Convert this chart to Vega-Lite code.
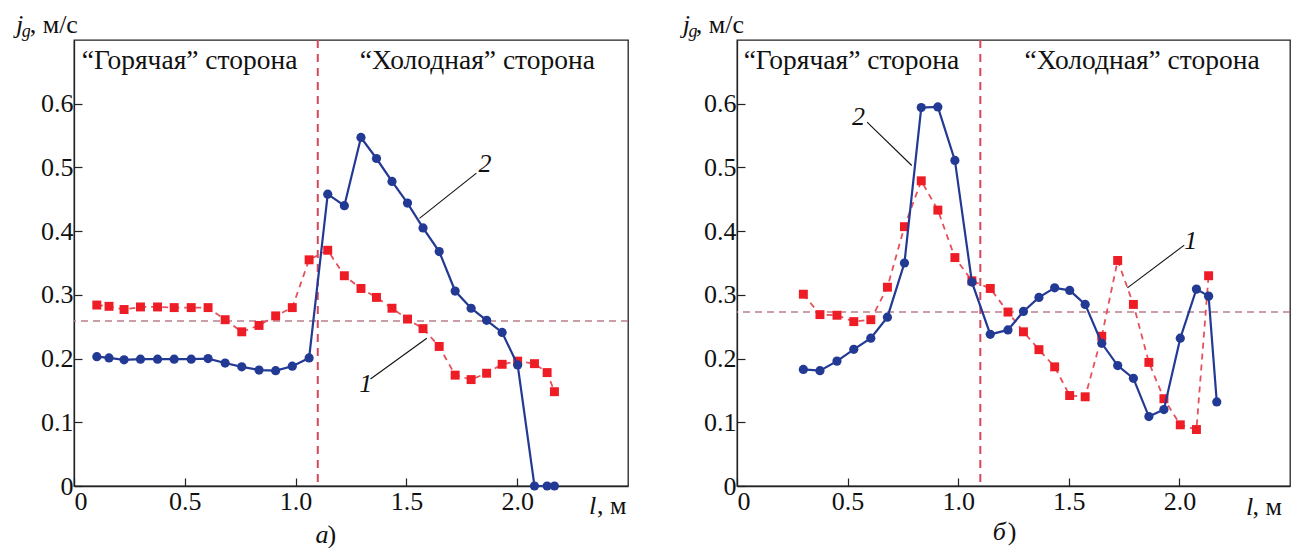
{
  "$schema": "https://vega.github.io/schema/vega-lite/v6.json",
  "padding": {"left": 15, "top": 10, "right": 0, "bottom": 0},
  "background": "white",
  "bounds": "flush",
  "spacing": 109,
  "config": {
    "view": {"stroke": "#222", "strokeWidth": 1.3},
    "axis": {"domainColor": "#222", "domainWidth": 1.3, "tickColor": "#222", "tickWidth": 1.2, "tickSize": -8, "labelFont": "'Liberation Serif', 'DejaVu Serif', serif", "labelFontSize": 26, "labelColor": "#111", "grid": false, "title": null},
    "text": {"font": "'Liberation Serif', 'DejaVu Serif', serif", "fontSize": 26, "color": "#111", "align": "left", "baseline": "alphabetic"}
  },
  "datasets": {
    "a_curves": [
      {"l": 0.103, "jg": 0.284, "curve": "1"}, {"l": 0.158, "jg": 0.282, "curve": "1"}, {"l": 0.226, "jg": 0.277, "curve": "1"}, {"l": 0.300, "jg": 0.281, "curve": "1"}, {"l": 0.377, "jg": 0.281, "curve": "1"}, {"l": 0.452, "jg": 0.280, "curve": "1"}, {"l": 0.529, "jg": 0.280, "curve": "1"}, {"l": 0.605, "jg": 0.280, "curve": "1"}, {"l": 0.682, "jg": 0.261, "curve": "1"}, {"l": 0.757, "jg": 0.242, "curve": "1"}, {"l": 0.835, "jg": 0.252, "curve": "1"}, {"l": 0.910, "jg": 0.267, "curve": "1"}, {"l": 0.985, "jg": 0.280, "curve": "1"}, {"l": 1.061, "jg": 0.355, "curve": "1"}, {"l": 1.145, "jg": 0.370, "curve": "1"}, {"l": 1.220, "jg": 0.330, "curve": "1"}, {"l": 1.295, "jg": 0.310, "curve": "1"}, {"l": 1.365, "jg": 0.296, "curve": "1"}, {"l": 1.435, "jg": 0.279, "curve": "1"}, {"l": 1.505, "jg": 0.262, "curve": "1"}, {"l": 1.575, "jg": 0.247, "curve": "1"}, {"l": 1.648, "jg": 0.219, "curve": "1"}, {"l": 1.720, "jg": 0.174, "curve": "1"}, {"l": 1.792, "jg": 0.167, "curve": "1"}, {"l": 1.862, "jg": 0.177, "curve": "1"}, {"l": 1.932, "jg": 0.191, "curve": "1"}, {"l": 2.002, "jg": 0.196, "curve": "1"}, {"l": 2.078, "jg": 0.192, "curve": "1"}, {"l": 2.135, "jg": 0.178, "curve": "1"}, {"l": 2.168, "jg": 0.148, "curve": "1"},
      {"l": 0.103, "jg": 0.203, "curve": "2"}, {"l": 0.158, "jg": 0.201, "curve": "2"}, {"l": 0.226, "jg": 0.198, "curve": "2"}, {"l": 0.300, "jg": 0.199, "curve": "2"}, {"l": 0.377, "jg": 0.199, "curve": "2"}, {"l": 0.452, "jg": 0.199, "curve": "2"}, {"l": 0.529, "jg": 0.199, "curve": "2"}, {"l": 0.605, "jg": 0.200, "curve": "2"}, {"l": 0.682, "jg": 0.193, "curve": "2"}, {"l": 0.757, "jg": 0.187, "curve": "2"}, {"l": 0.835, "jg": 0.182, "curve": "2"}, {"l": 0.910, "jg": 0.181, "curve": "2"}, {"l": 0.985, "jg": 0.188, "curve": "2"}, {"l": 1.061, "jg": 0.201, "curve": "2"}, {"l": 1.145, "jg": 0.458, "curve": "2"}, {"l": 1.220, "jg": 0.440, "curve": "2"}, {"l": 1.295, "jg": 0.547, "curve": "2"}, {"l": 1.365, "jg": 0.514, "curve": "2"}, {"l": 1.435, "jg": 0.478, "curve": "2"}, {"l": 1.505, "jg": 0.444, "curve": "2"}, {"l": 1.575, "jg": 0.405, "curve": "2"}, {"l": 1.648, "jg": 0.368, "curve": "2"}, {"l": 1.720, "jg": 0.306, "curve": "2"}, {"l": 1.792, "jg": 0.279, "curve": "2"}, {"l": 1.862, "jg": 0.260, "curve": "2"}, {"l": 1.932, "jg": 0.241, "curve": "2"}, {"l": 2.002, "jg": 0.190, "curve": "2"}, {"l": 2.078, "jg": 0.0, "curve": "2"}, {"l": 2.135, "jg": 0.0, "curve": "2"}, {"l": 2.168, "jg": 0.0, "curve": "2"}
    ],
    "b_curves": [
      {"l": 0.300, "jg": 0.301, "curve": "1"}, {"l": 0.375, "jg": 0.269, "curve": "1"}, {"l": 0.452, "jg": 0.268, "curve": "1"}, {"l": 0.528, "jg": 0.258, "curve": "1"}, {"l": 0.605, "jg": 0.261, "curve": "1"}, {"l": 0.680, "jg": 0.312, "curve": "1"}, {"l": 0.757, "jg": 0.407, "curve": "1"}, {"l": 0.833, "jg": 0.479, "curve": "1"}, {"l": 0.908, "jg": 0.433, "curve": "1"}, {"l": 0.985, "jg": 0.3585, "curve": "1"}, {"l": 1.062, "jg": 0.322, "curve": "1"}, {"l": 1.145, "jg": 0.310, "curve": "1"}, {"l": 1.225, "jg": 0.273, "curve": "1"}, {"l": 1.295, "jg": 0.242, "curve": "1"}, {"l": 1.365, "jg": 0.214, "curve": "1"}, {"l": 1.436, "jg": 0.187, "curve": "1"}, {"l": 1.504, "jg": 0.142, "curve": "1"}, {"l": 1.574, "jg": 0.140, "curve": "1"}, {"l": 1.649, "jg": 0.235, "curve": "1"}, {"l": 1.721, "jg": 0.354, "curve": "1"}, {"l": 1.792, "jg": 0.285, "curve": "1"}, {"l": 1.862, "jg": 0.194, "curve": "1"}, {"l": 1.930, "jg": 0.137, "curve": "1"}, {"l": 2.004, "jg": 0.096, "curve": "1"}, {"l": 2.077, "jg": 0.0886, "curve": "1"}, {"l": 2.132, "jg": 0.330, "curve": "1"},
      {"l": 0.300, "jg": 0.183, "curve": "2"}, {"l": 0.375, "jg": 0.181, "curve": "2"}, {"l": 0.452, "jg": 0.196, "curve": "2"}, {"l": 0.528, "jg": 0.2145, "curve": "2"}, {"l": 0.605, "jg": 0.232, "curve": "2"}, {"l": 0.680, "jg": 0.265, "curve": "2"}, {"l": 0.757, "jg": 0.350, "curve": "2"}, {"l": 0.833, "jg": 0.594, "curve": "2"}, {"l": 0.908, "jg": 0.595, "curve": "2"}, {"l": 0.985, "jg": 0.511, "curve": "2"}, {"l": 1.062, "jg": 0.320, "curve": "2"}, {"l": 1.145, "jg": 0.238, "curve": "2"}, {"l": 1.225, "jg": 0.245, "curve": "2"}, {"l": 1.295, "jg": 0.274, "curve": "2"}, {"l": 1.365, "jg": 0.296, "curve": "2"}, {"l": 1.436, "jg": 0.311, "curve": "2"}, {"l": 1.504, "jg": 0.307, "curve": "2"}, {"l": 1.574, "jg": 0.285, "curve": "2"}, {"l": 1.649, "jg": 0.224, "curve": "2"}, {"l": 1.721, "jg": 0.189, "curve": "2"}, {"l": 1.792, "jg": 0.169, "curve": "2"}, {"l": 1.862, "jg": 0.109, "curve": "2"}, {"l": 1.930, "jg": 0.120, "curve": "2"}, {"l": 2.004, "jg": 0.232, "curve": "2"}, {"l": 2.077, "jg": 0.309, "curve": "2"}, {"l": 2.132, "jg": 0.298, "curve": "2"}, {"l": 2.169, "jg": 0.132, "curve": "2"}
    ],
    "a_ref": [{"l": 1.1, "jg": 0.259}],
    "b_ref": [{"l": 1.1, "jg": 0.273}],
    "a_leaders": [
      {"l": 1.816, "jg": 0.491, "l2": 1.559, "jg2": 0.42},
      {"l": 1.338, "jg": 0.168, "l2": 1.592, "jg2": 0.232}
    ],
    "b_leaders": [
      {"l": 0.588, "jg": 0.571, "l2": 0.79, "jg2": 0.503},
      {"l": 2.022, "jg": 0.378, "l2": 1.765, "jg2": 0.311}
    ],
    "a_head": [
      {"l": 0.035, "jg": 0.655, "text": "“Горячая” сторона"},
      {"l": 1.29, "jg": 0.655, "text": "“Холодная” сторона"}
    ],
    "a_text": [
      {"l": -0.2, "jg": 0.7116, "text": ", м/с"},
      {"l": 2.36, "jg": -0.044, "text": ", м"},
      {"l": 1.144, "jg": -0.0893, "text": ")"}
    ],
    "a_italic": [
      {"l": -0.262, "jg": 0.7116, "text": "j"},
      {"l": 2.324, "jg": -0.044, "text": "l"},
      {"l": 1.09, "jg": -0.0893, "text": "а"},
      {"l": 1.825, "jg": 0.4924, "text": "2"},
      {"l": 1.287, "jg": 0.147, "text": "1"}
    ],
    "a_sub": [{"l": -0.236, "jg": 0.704, "text": "g"}],
    "b_head": [
      {"l": 0.03, "jg": 0.654, "text": "“Горячая” сторона"},
      {"l": 1.3, "jg": 0.654, "text": "“Холодная” сторона"}
    ],
    "b_text": [
      {"l": -0.186, "jg": 0.7116, "text": ", м/с"},
      {"l": 2.33, "jg": -0.045, "text": ", м"},
      {"l": 1.2235, "jg": -0.084, "text": ")"}
    ],
    "b_italic": [
      {"l": -0.245, "jg": 0.7116, "text": "j"},
      {"l": 2.301, "jg": -0.045, "text": "l"},
      {"l": 1.156, "jg": -0.084, "text": "б"},
      {"l": 0.52, "jg": 0.567, "text": "2"},
      {"l": 2.022, "jg": 0.372, "text": "1"}
    ],
    "b_sub": [{"l": -0.219, "jg": 0.704, "text": "g"}]
  },
  "hconcat": [
    {
      "width": 554,
      "height": 446,
      "encoding": {
        "x": {"field": "l", "type": "quantitative", "scale": {"domain": [0, 2.5], "nice": false, "zero": false}, "axis": {"values": [0, 0.5, 1, 1.5, 2], "labelExpr": "datum.value == 0 ? '0' : format(datum.value, '.1f')", "labelPadding": 10}},
        "y": {"field": "jg", "type": "quantitative", "scale": {"domain": [0, 0.7], "nice": false, "zero": false}, "axis": {"values": [0, 0.1, 0.2, 0.3, 0.4, 0.5, 0.6], "labelExpr": "datum.value == 0 ? '0' : format(datum.value, '.1f')", "labelPadding": 9}}
      },
      "layer": [
        {"data": {"name": "a_ref"}, "mark": {"type": "rule", "color": "#d8465c", "strokeWidth": 2, "strokeDash": [8, 6]}, "encoding": {"y": null}},
        {"data": {"name": "a_ref"}, "mark": {"type": "rule", "color": "#b97f8b", "strokeWidth": 1.5, "strokeDash": [7, 5]}, "encoding": {"x": null}},
        {"data": {"name": "a_curves"}, "transform": [{"filter": "datum.curve == '1'"}], "mark": {"type": "line", "color": "#e5505c", "strokeWidth": 1.8, "strokeDash": [6, 5]}},
        {"data": {"name": "a_curves"}, "transform": [{"filter": "datum.curve == '1'"}], "mark": {"type": "point", "shape": "square", "filled": true, "opacity": 1, "color": "#ee1c25", "size": 80}},
        {"data": {"name": "a_curves"}, "transform": [{"filter": "datum.curve == '2'"}], "mark": {"type": "line", "color": "#233a94", "strokeWidth": 2.2}},
        {"data": {"name": "a_curves"}, "transform": [{"filter": "datum.curve == '2'"}], "mark": {"type": "circle", "opacity": 1, "color": "#233a94", "size": 85}},
        {"data": {"name": "a_leaders"}, "mark": {"type": "rule", "color": "#111", "strokeWidth": 1.1}, "encoding": {"x2": {"field": "l2"}, "y2": {"field": "jg2"}}},
        {"data": {"name": "a_head"}, "mark": {"type": "text", "fontSize": 27.5}, "encoding": {"text": {"field": "text"}}},
        {"data": {"name": "a_text"}, "mark": {"type": "text"}, "encoding": {"text": {"field": "text"}}},
        {"data": {"name": "a_italic"}, "mark": {"type": "text", "fontStyle": "italic"}, "encoding": {"text": {"field": "text"}}},
        {"data": {"name": "a_sub"}, "mark": {"type": "text", "fontStyle": "italic", "fontSize": 18}, "encoding": {"text": {"field": "text"}}}
      ]
    },
    {
      "width": 553,
      "height": 446,
      "encoding": {
        "x": {"field": "l", "type": "quantitative", "scale": {"domain": [0, 2.5], "nice": false, "zero": false}, "axis": {"values": [0, 0.5, 1, 1.5, 2], "labelExpr": "datum.value == 0 ? '0' : format(datum.value, '.1f')", "labelPadding": 10}},
        "y": {"field": "jg", "type": "quantitative", "scale": {"domain": [0, 0.7], "nice": false, "zero": false}, "axis": {"values": [0, 0.1, 0.2, 0.3, 0.4, 0.5, 0.6], "labelExpr": "datum.value == 0 ? '0' : format(datum.value, '.1f')", "labelPadding": 9}}
      },
      "layer": [
        {"data": {"name": "b_ref"}, "mark": {"type": "rule", "color": "#d8465c", "strokeWidth": 2, "strokeDash": [8, 6]}, "encoding": {"y": null}},
        {"data": {"name": "b_ref"}, "mark": {"type": "rule", "color": "#b97f8b", "strokeWidth": 1.5, "strokeDash": [7, 5]}, "encoding": {"x": null}},
        {"data": {"name": "b_curves"}, "transform": [{"filter": "datum.curve == '1'"}], "mark": {"type": "line", "color": "#e5505c", "strokeWidth": 1.8, "strokeDash": [6, 5]}},
        {"data": {"name": "b_curves"}, "transform": [{"filter": "datum.curve == '1'"}], "mark": {"type": "point", "shape": "square", "filled": true, "opacity": 1, "color": "#ee1c25", "size": 80}},
        {"data": {"name": "b_curves"}, "transform": [{"filter": "datum.curve == '2'"}], "mark": {"type": "line", "color": "#233a94", "strokeWidth": 2.2}},
        {"data": {"name": "b_curves"}, "transform": [{"filter": "datum.curve == '2'"}], "mark": {"type": "circle", "opacity": 1, "color": "#233a94", "size": 85}},
        {"data": {"name": "b_leaders"}, "mark": {"type": "rule", "color": "#111", "strokeWidth": 1.1}, "encoding": {"x2": {"field": "l2"}, "y2": {"field": "jg2"}}},
        {"data": {"name": "b_head"}, "mark": {"type": "text", "fontSize": 27.5}, "encoding": {"text": {"field": "text"}}},
        {"data": {"name": "b_text"}, "mark": {"type": "text"}, "encoding": {"text": {"field": "text"}}},
        {"data": {"name": "b_italic"}, "mark": {"type": "text", "fontStyle": "italic"}, "encoding": {"text": {"field": "text"}}},
        {"data": {"name": "b_sub"}, "mark": {"type": "text", "fontStyle": "italic", "fontSize": 18}, "encoding": {"text": {"field": "text"}}}
      ]
    }
  ]
}
